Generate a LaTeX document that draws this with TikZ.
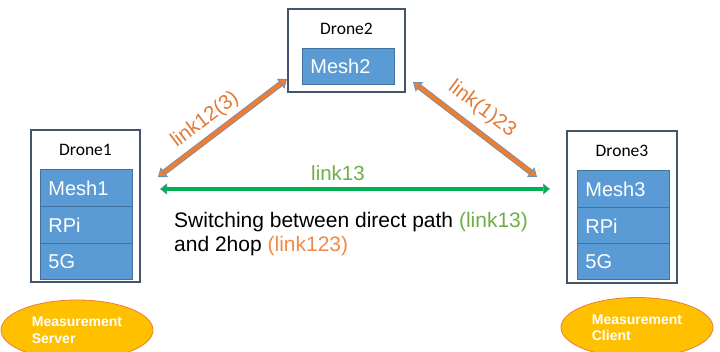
\documentclass[tikz,border=0pt]{standalone}
\usepackage{fontspec}
\setmainfont{Liberation Sans}
\newfontfamily\labelfont{Carlito}
\usetikzlibrary{arrows.meta,shapes.geometric}

\definecolor{framegray}{HTML}{44546A}
\definecolor{stackblue}{HTML}{5B9BD5}
\definecolor{stackedge}{HTML}{41719C}
\definecolor{linkorange}{HTML}{ED7D31}
\definecolor{edgeblue}{HTML}{6F8FB5}
\definecolor{linkgreen}{HTML}{00B050}
\definecolor{textgreen}{HTML}{70AD47}
\definecolor{textorange}{HTML}{F08A48}
\definecolor{labelorange}{HTML}{E37A36}
\definecolor{gold}{HTML}{FFC000}

\begin{document}
\begin{tikzpicture}[x=1pt,y=-1pt,
  dronebox/.style={draw=framegray, line width=1.3pt, fill=white, rectangle, inner sep=0pt},
  dronelabel/.style={font=\labelfont\fontsize{17.5}{20}\selectfont, text=black, inner sep=0pt},
  layer/.style={rectangle, anchor=north west, fill=stackblue, draw=stackedge, line width=0.9pt,
    text=white, font=\fontsize{20}{24}\selectfont, inner xsep=8pt, inner ysep=0pt,
    text width=76pt, align=left, minimum height=37pt},
  endpoint/.style={ellipse, fill=gold, draw=linkorange, line width=0.8pt,
    minimum width=152pt, minimum height=60pt, inner sep=0pt,
    text=white, font=\bfseries\fontsize{14}{16.5}\selectfont, align=left},
  orangetip/.style={},
  orangelink/.style={draw=linkorange, line width=4.2pt,
    {Triangle[length=8pt,width=12pt,fill=linkorange,color=edgeblue,line width=0.8pt]}-{Triangle[length=8pt,width=12pt,fill=linkorange,color=edgeblue,line width=0.8pt]},
    preaction={draw=edgeblue, line width=5.8pt, -, shorten <=6pt, shorten >=6pt}},
  greenlink/.style={draw=linkgreen, line width=4.4pt,
    {Triangle[length=7pt,width=11pt,fill=linkgreen,color=edgeblue,line width=0.5pt]}-{Triangle[length=7pt,width=11pt,fill=linkgreen,color=edgeblue,line width=0.5pt]}},
  linklabel/.style={font=\fontsize{20.5}{24}\selectfont, inner sep=0pt},
  note/.style={font=\fontsize{21}{24}\selectfont, anchor=base west, inner sep=0pt}
]
\useasboundingbox (0,0) rectangle (720,351);

% drone frames
\node[dronebox, minimum width=109pt, minimum height=152pt] (d1) at (85.5,206) {};
\node[dronebox, minimum width=117pt, minimum height=83pt] (d2) at (346.5,50.5) {};
\node[dronebox, minimum width=110pt, minimum height=152pt] (d3) at (622,207) {};

\node[dronelabel] (d1l) at (85.5,150) {Drone1};
\node[dronelabel] (d2l) at (346.5,29) {Drone2};
\node[dronelabel] (d3l) at (622,151) {Drone3};

% protocol stacks
\node[layer] (m1) at (40,169) {Mesh1};
\node[layer] (r1) at (40,206) {RPi};
\node[layer, minimum height=36pt] (g1) at (40,243) {5G};

\node[layer, minimum height=36pt] (m2) at (302,48) {Mesh2};

\node[layer] (m3) at (577,170) {Mesh3};
\node[layer] (r3) at (577,207) {RPi};
\node[layer, minimum height=36pt] (g3) at (577,243) {5G};

% measurement endpoints
\node[endpoint] (srv) at (77,330) {Measurement\\Server};
\node[endpoint] (cli) at (637,327.5) {Measurement\\Client};

% link end points
\coordinate (a1) at (158,177);
\coordinate (a2) at (287,79);
\coordinate (b1) at (413,82);
\coordinate (b2) at (537,177);
\coordinate (c1) at (160,189);
\coordinate (c2) at (550,189);

\draw[orangelink] (a1) -- (a2);
\draw[orangelink] (b1) -- (b2);
\draw[greenlink] (c1) -- (c2);

\node[linklabel, text=labelorange, rotate=37] (l12) at (205,120) {link12(3)};
\node[linklabel, text=labelorange, rotate=-37] (l23) at (482,109) {link(1)23};
\node[linklabel, text=textgreen] (l13) at (338,173) {link13};

\node[note] (sw1) at (174,227) {Switching between direct path {\color{textgreen}(link13)}};
\node[note] (sw2) at (174,251) {and 2hop {\color{textorange}(link123)}};
\end{tikzpicture}
\end{document}
